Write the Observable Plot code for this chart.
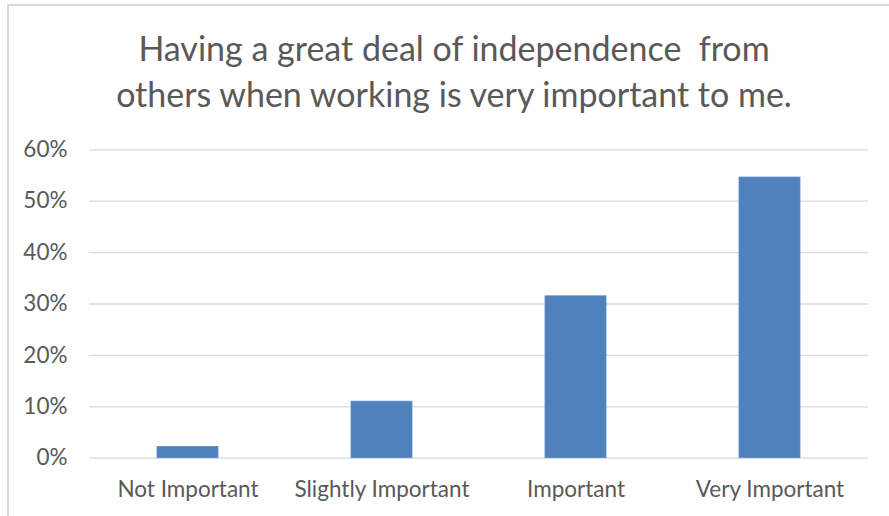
<!DOCTYPE html>
<html>
<head>
<meta charset="utf-8">
<script src="https://cdn.jsdelivr.net/npm/d3@7"></script>
<script src="https://cdn.jsdelivr.net/npm/@observablehq/plot@0.6"></script>
<style>
  html, body { margin: 0; padding: 0; background: #fff; }
  #frame {
    position: relative; width: 889px; height: 516px; overflow: hidden;
    background: #fff;
  }
  #border {
    position: absolute; left: 7px; top: 4px; right: -10px; bottom: -10px;
    border-top: 2px solid #d9d9d9; border-left: 2px solid #d9d9d9;
  }
  #title {
    position: absolute; left: 0; top: 25px; width: 908px;
    text-align: center; font-family: Lato, sans-serif; font-size: 34px;
    line-height: 46px; color: #595959;
  }
  #chart { position: absolute; left: 0; top: 120px; }
</style>
</head>
<body>
<div id="frame">
  <div id="border"></div>
  <div id="title">Having a great deal of independence&nbsp; from<br>others when working is very important to me.</div>
  <div id="chart"></div>
</div>
<script>
const categories = ["Not Important", "Slightly Important", "Important", "Very Important"];
const values = [0.022, 0.110, 0.315, 0.546];
const yTicks = [0, 0.1, 0.2, 0.3, 0.4, 0.5, 0.6];

const data = categories.map((c, i) => ({category: c, value: values[i]}));

const chart = Plot.plot({
  width: 889,
  height: 396,
  marginLeft: 89,
  marginRight: 21,
  marginTop: 29.3,
  marginBottom: 58.3,
  style: {fontFamily: "Lato, sans-serif", fontSize: "22px", color: "#595959", background: "transparent"},
  x: {domain: categories, paddingInner: 0.685, paddingOuter: 0.3425, label: null},
  y: {domain: [0, 0.6], label: null},
  marks: [
    Plot.gridY(yTicks, {stroke: "#d9d9d9", strokeOpacity: 1, strokeWidth: 1.3}),
    Plot.barY(data, {x: "category", y: "value", fill: "#4f81bd", stroke: "#5b8cc6", strokeWidth: 0.8}),
    Plot.axisY(yTicks, {tickSize: 0, tickPadding: 22, tickFormat: d3.format(".0%"), fill: "#595959", fontSize: 22.5}),
    Plot.axisX({tickSize: 0, tickPadding: 23.3, fill: "#595959", fontSize: 22.5})
  ]
});
document.getElementById("chart").appendChild(chart);
</script>
</body>
</html>
